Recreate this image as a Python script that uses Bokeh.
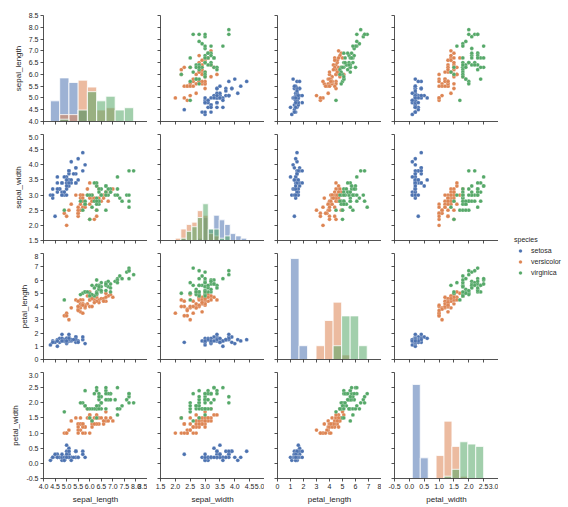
import numpy as np
from bokeh.plotting import figure
from bokeh.layouts import row, column
from bokeh.models import (Range1d, FixedTicker, NumeralTickFormatter, CustomJSTickFormatter,
                          Legend, LegendItem, AllLabels)
from bokeh.embed import file_html
from bokeh.resources import INLINE

# ---------------- data (iris) ----------------
species_names = ["setosa", "versicolor", "virginica"]
species_colors = ["#4C72B0", "#DD8452", "#55A868"]
variables = ["sepal_length", "sepal_width", "petal_length", "petal_width"]

sepal_length = [
    5.1, 4.9, 4.7, 4.6, 5.0, 5.4, 4.6, 5.0, 4.4, 4.9, 5.4, 4.8, 4.8, 4.3, 5.8, 5.7, 5.4, 5.1, 5.7, 5.1,
    5.4, 5.1, 4.6, 5.1, 4.8, 5.0, 5.0, 5.2, 5.2, 4.7, 4.8, 5.4, 5.2, 5.5, 4.9, 5.0, 5.5, 4.9, 4.4, 5.1,
    5.0, 4.5, 4.4, 5.0, 5.1, 4.8, 5.1, 4.6, 5.3, 5.0,
    7.0, 6.4, 6.9, 5.5, 6.5, 5.7, 6.3, 4.9, 6.6, 5.2, 5.0, 5.9, 6.0, 6.1, 5.6, 6.7, 5.6, 5.8, 6.2, 5.6,
    5.9, 6.1, 6.3, 6.1, 6.4, 6.6, 6.8, 6.7, 6.0, 5.7, 5.5, 5.5, 5.8, 6.0, 5.4, 6.0, 6.7, 6.3, 5.6, 5.5,
    5.5, 6.1, 5.8, 5.0, 5.6, 5.7, 5.7, 6.2, 5.1, 5.7,
    6.3, 5.8, 7.1, 6.3, 6.5, 7.6, 4.9, 7.3, 6.7, 7.2, 6.5, 6.4, 6.8, 5.7, 5.8, 6.4, 6.5, 7.7, 7.7, 6.0,
    6.9, 5.6, 7.7, 6.3, 6.7, 7.2, 6.2, 6.1, 6.4, 7.2, 7.4, 7.9, 6.4, 6.3, 6.1, 7.7, 6.3, 6.4, 6.0, 6.9,
    6.7, 6.9, 5.8, 6.8, 6.7, 6.7, 6.3, 6.5, 6.2, 5.9]
sepal_width = [
    3.5, 3.0, 3.2, 3.1, 3.6, 3.9, 3.4, 3.4, 2.9, 3.1, 3.7, 3.4, 3.0, 3.0, 4.0, 4.4, 3.9, 3.5, 3.8, 3.8,
    3.4, 3.7, 3.6, 3.3, 3.4, 3.0, 3.4, 3.5, 3.4, 3.2, 3.1, 3.4, 4.1, 4.2, 3.1, 3.2, 3.5, 3.6, 3.0, 3.4,
    3.5, 2.3, 3.2, 3.5, 3.8, 3.0, 3.8, 3.2, 3.7, 3.3,
    3.2, 3.2, 3.1, 2.3, 2.8, 2.8, 3.3, 2.4, 2.9, 2.7, 2.0, 3.0, 2.2, 2.9, 2.9, 3.1, 3.0, 2.7, 2.2, 2.5,
    3.2, 2.8, 2.5, 2.8, 2.9, 3.0, 2.8, 3.0, 2.9, 2.6, 2.4, 2.4, 2.7, 2.7, 3.0, 3.4, 3.1, 2.3, 3.0, 2.5,
    2.6, 3.0, 2.6, 2.3, 2.7, 3.0, 2.9, 2.9, 2.5, 2.8,
    3.3, 2.7, 3.0, 2.9, 3.0, 3.0, 2.5, 2.9, 2.5, 3.6, 3.2, 2.7, 3.0, 2.5, 2.8, 3.2, 3.0, 3.8, 2.6, 2.2,
    3.2, 2.8, 2.8, 2.7, 3.3, 3.2, 2.8, 3.0, 2.8, 3.0, 2.8, 3.8, 2.8, 2.8, 2.6, 3.0, 3.4, 3.1, 3.0, 3.1,
    3.1, 3.1, 2.7, 3.2, 3.3, 3.0, 2.5, 3.0, 3.4, 3.0]
petal_length = [
    1.4, 1.4, 1.3, 1.5, 1.4, 1.7, 1.4, 1.5, 1.4, 1.5, 1.5, 1.6, 1.4, 1.1, 1.2, 1.5, 1.3, 1.4, 1.7, 1.5,
    1.7, 1.5, 1.0, 1.7, 1.9, 1.6, 1.6, 1.5, 1.4, 1.6, 1.6, 1.5, 1.5, 1.4, 1.5, 1.2, 1.3, 1.4, 1.3, 1.5,
    1.3, 1.3, 1.3, 1.6, 1.9, 1.4, 1.6, 1.4, 1.5, 1.4,
    4.7, 4.5, 4.9, 4.0, 4.6, 4.5, 4.7, 3.3, 4.6, 3.9, 3.5, 4.2, 4.0, 4.7, 3.6, 4.4, 4.5, 4.1, 4.5, 3.9,
    4.8, 4.0, 4.9, 4.7, 4.3, 4.4, 4.8, 5.0, 4.5, 3.5, 3.8, 3.7, 3.9, 5.1, 4.5, 4.5, 4.7, 4.4, 4.1, 4.0,
    4.4, 4.6, 4.0, 3.3, 4.2, 4.2, 4.2, 4.3, 3.0, 4.1,
    6.0, 5.1, 5.9, 5.6, 5.8, 6.6, 4.5, 6.3, 5.8, 6.1, 5.1, 5.3, 5.5, 5.0, 5.1, 5.3, 5.5, 6.7, 6.9, 5.0,
    5.7, 4.9, 6.7, 4.9, 5.7, 6.0, 4.8, 4.9, 5.6, 5.8, 6.1, 6.4, 5.6, 5.1, 5.6, 6.1, 5.6, 5.5, 4.8, 5.4,
    5.6, 5.1, 5.1, 5.9, 5.7, 5.2, 5.0, 5.2, 5.4, 5.1]
petal_width = [
    0.2, 0.2, 0.2, 0.2, 0.2, 0.4, 0.3, 0.2, 0.2, 0.1, 0.2, 0.2, 0.1, 0.1, 0.2, 0.4, 0.4, 0.3, 0.3, 0.3,
    0.2, 0.4, 0.2, 0.5, 0.2, 0.2, 0.4, 0.2, 0.2, 0.2, 0.2, 0.4, 0.1, 0.2, 0.2, 0.2, 0.2, 0.1, 0.2, 0.2,
    0.3, 0.3, 0.2, 0.6, 0.4, 0.3, 0.2, 0.2, 0.2, 0.2,
    1.4, 1.5, 1.5, 1.3, 1.5, 1.3, 1.6, 1.0, 1.3, 1.4, 1.0, 1.5, 1.0, 1.4, 1.3, 1.4, 1.5, 1.0, 1.5, 1.1,
    1.8, 1.3, 1.5, 1.2, 1.3, 1.4, 1.4, 1.7, 1.5, 1.0, 1.1, 1.0, 1.2, 1.6, 1.5, 1.6, 1.5, 1.3, 1.3, 1.3,
    1.2, 1.4, 1.2, 1.0, 1.3, 1.2, 1.3, 1.3, 1.1, 1.3,
    2.5, 1.9, 2.1, 1.8, 2.2, 2.1, 1.7, 1.8, 1.8, 2.5, 2.0, 1.9, 2.1, 2.0, 2.4, 2.3, 1.8, 2.2, 2.3, 1.5,
    2.3, 2.0, 2.0, 1.8, 2.1, 1.8, 1.8, 1.8, 2.1, 1.6, 1.9, 2.0, 2.2, 1.5, 1.4, 2.3, 2.4, 1.8, 1.8, 2.1,
    2.4, 2.3, 1.9, 2.3, 2.5, 2.3, 1.9, 2.0, 2.3, 1.8]
species = ["setosa"] * 50 + ["versicolor"] * 50 + ["virginica"] * 50

# axis tick values per variable
ticks = {
    "sepal_length": [4.0, 4.5, 5.0, 5.5, 6.0, 6.5, 7.0, 7.5, 8.0, 8.5],
    "sepal_width": [1.5, 2.0, 2.5, 3.0, 3.5, 4.0, 4.5, 5.0],
    "petal_length": [0, 1, 2, 3, 4, 5, 6, 7, 8],
    "petal_width": [-0.5, 0.0, 0.5, 1.0, 1.5, 2.0, 2.5, 3.0],
}
tick_fmt = {"sepal_length": "0.0", "sepal_width": "0.0", "petal_length": "0", "petal_width": "0.0"}

# ---------------- prep ----------------
data = {"sepal_length": np.array(sepal_length), "sepal_width": np.array(sepal_width),
        "petal_length": np.array(petal_length), "petal_width": np.array(petal_width)}
sp = np.array(species)

hists = {}
hmax = 0
for v in variables:
    edges = np.histogram_bin_edges(data[v], bins="auto")
    hists[v] = (edges, [np.histogram(data[v][sp == s], bins=edges)[0] for s in species_names])
    hmax = max(hmax, max(c.max() for c in hists[v][1]))

FW, FH = 104, 106
GAP_X, GAP_Y = 13, 13
LEFT, BOTTOM, TOP = 43, 28, 15
INK = "#262626"
FONT = "Liberation Sans"
blank = CustomJSTickFormatter(code="return ''")


def style_axis(ax, show_labels, fmt, label):
    ax.ticker = FixedTicker(ticks=ticks[label])
    ax.major_tick_in = 0
    ax.major_tick_out = 3
    ax.minor_tick_line_color = None
    ax.axis_line_color = INK
    ax.major_tick_line_color = INK
    ax.axis_line_width = 0.8
    ax.major_tick_line_width = 0.8
    if show_labels:
        ax.formatter = NumeralTickFormatter(format=fmt)
        ax.major_label_policy = AllLabels()
        ax.major_label_text_font_size = "7px"
        ax.major_label_text_font = FONT
        ax.major_label_text_color = INK
        ax.major_label_standoff = 2
        ax.axis_label = label
        ax.axis_label_text_font = FONT
        ax.axis_label_text_font_size = "8px"
        ax.axis_label_text_font_style = "normal"
        ax.axis_label_text_color = INK
        ax.axis_label_standoff = 3
    else:
        ax.formatter = blank
        ax.major_label_text_font_size = "1px"
        ax.major_label_standoff = 0


rows = []
for i, yv in enumerate(variables):
    figs = []
    for j, xv in enumerate(variables):
        p = figure(frame_width=FW, frame_height=FH,
                   x_range=Range1d(ticks[xv][0], ticks[xv][-1]),
                   y_range=Range1d(ticks[yv][0], ticks[yv][-1]),
                   output_backend="svg", toolbar_location=None,
                   min_border_left=LEFT if j == 0 else GAP_X, min_border_right=0,
                   min_border_top=TOP if i == 0 else 0,
                   min_border_bottom=BOTTOM if i == 3 else GAP_Y)
        p.outline_line_color = None
        p.xgrid.visible = False
        p.ygrid.visible = False
        p.background_fill_color = None
        p.border_fill_color = None
        style_axis(p.xaxis[0], i == 3, tick_fmt[xv], xv)
        style_axis(p.yaxis[0], j == 0, tick_fmt[yv], yv)
        if i == j:
            edges, counts = hists[xv]
            p.extra_y_ranges = {"hist": Range1d(0, hmax * 1.05)}
            for s, c, cnt in zip(species_names, species_colors, counts):
                p.quad(left=edges[:-1], right=edges[1:], bottom=0, top=cnt,
                       y_range_name="hist", fill_color=c, fill_alpha=0.55,
                       line_color="white", line_width=0.8)
        else:
            for s, c in zip(species_names, species_colors):
                m = sp == s
                p.scatter(x=data[xv][m], y=data[yv][m], size=3.8, fill_color=c,
                          line_color="white", line_width=0.2)
        figs.append(p)
    rows.append(row(*figs, spacing=0))

grid = column(*rows, spacing=0)
H = TOP + 4 * FH + 3 * GAP_Y + BOTTOM

lf = figure(width=70, height=H, x_range=Range1d(0, 1), y_range=Range1d(0, 1),
            output_backend="svg", toolbar_location=None, min_border=0,
            x_axis_location=None, y_axis_location=None)
lf.outline_line_color = None
lf.xgrid.visible = False
lf.ygrid.visible = False
items = []
for s, c in zip(species_names, species_colors):
    r = lf.scatter([-10], [-10], size=5, fill_color=c, line_color="white", line_width=0.2)
    items.append(LegendItem(label=s, renderers=[r]))
leg = Legend(items=items, title="species", location=(16, 229),
             label_text_font=FONT, label_text_font_size="7px", label_text_color=INK,
             title_text_font=FONT, title_text_font_size="7px", title_text_color=INK,
             title_text_font_style="normal", title_standoff=3,
             glyph_width=12, glyph_height=9, label_height=9, label_standoff=5,
             spacing=2, padding=0, margin=0, border_line_color=None,
             background_fill_alpha=0)
lf.add_layout(leg)

page = row(grid, lf, spacing=0)
open("out.html", "w").write(file_html(page, INLINE))
